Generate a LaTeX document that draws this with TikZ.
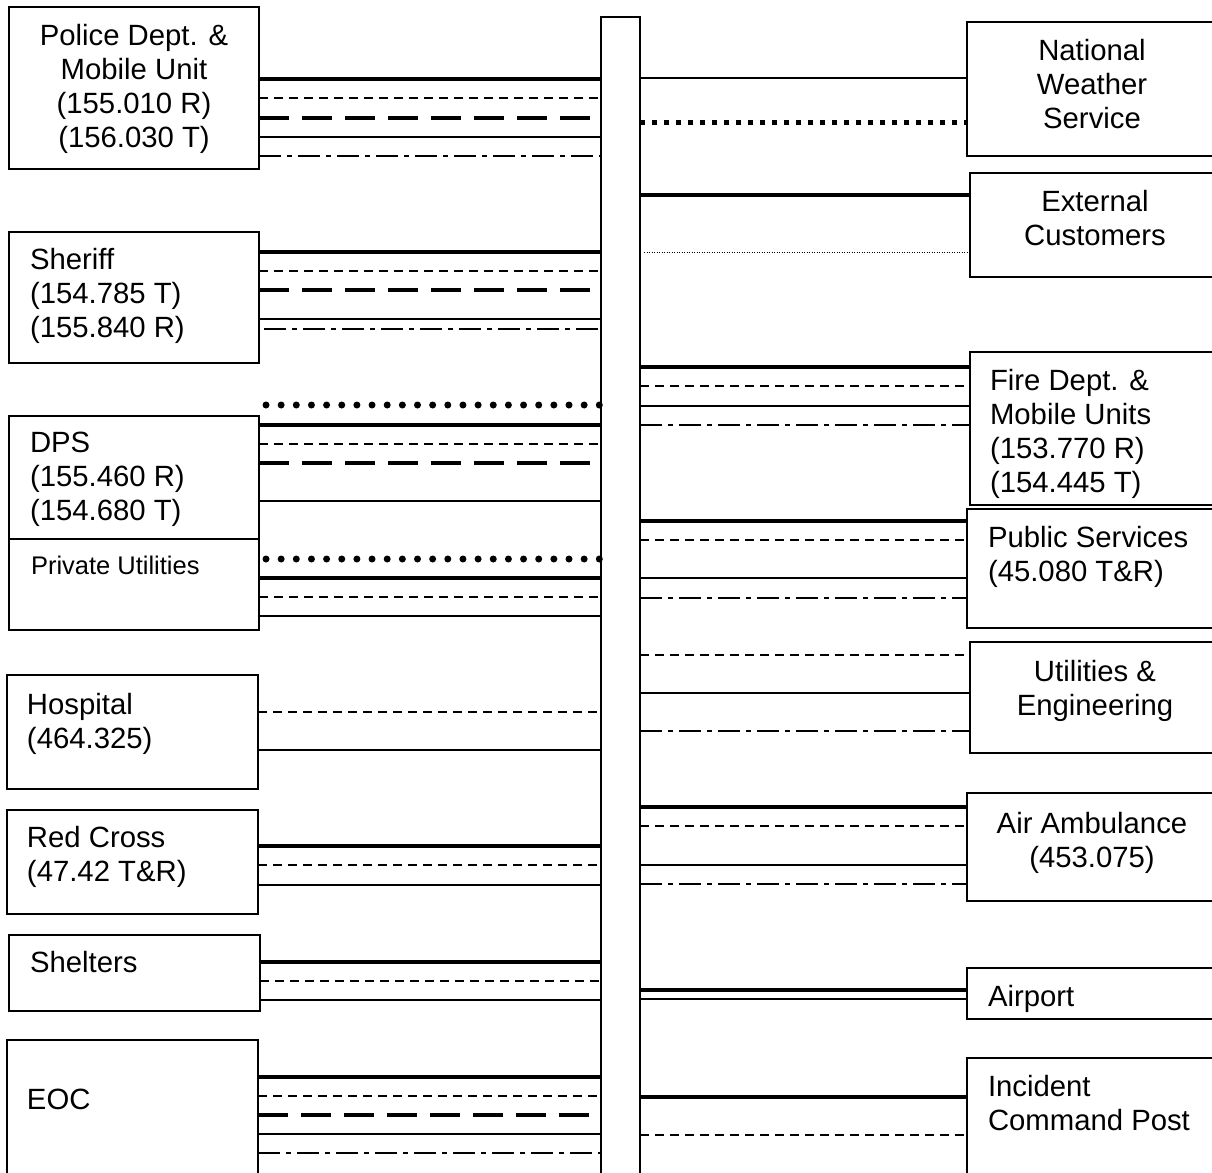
\documentclass[tikz,border=0pt]{standalone}
\usepackage{fontspec}
\setmainfont{Liberation Sans}
\tikzset{
  box/.style={draw, rectangle, line width=1.8pt, inner sep=0pt, outer sep=0pt, anchor=north west},
  lbl/.style={inner sep=0pt, outer sep=0pt, font=\fontsize{29.3}{34}\selectfont},
  smalllbl/.style={inner sep=0pt, outer sep=0pt, font=\fontsize{25.5}{30}\selectfont},
  thickln/.style={line width=3.6pt},
  thinln/.style={line width=1.8pt},
  dashln/.style={line width=1.4pt, dash pattern=on 9pt off 6pt},
  longdash/.style={line width=3.8pt, dash pattern=on 30pt off 13pt},
  dashdotln/.style={line width=2.8pt, dash pattern=on 22pt off 6pt on 5pt off 6pt},
  bigdots/.style={line width=7pt, line cap=round, dash pattern=on 0pt off 15.15pt},
  sqdots/.style={line width=5pt, dash pattern=on 5pt off 7pt},
  finedots/.style={line width=1pt, dash pattern=on 1pt off 1.5pt}
}
\begin{document}
\begin{tikzpicture}[x=1pt,y=-1pt]
\useasboundingbox (0,0) rectangle (1212,1172);
\clip (0,0) rectangle (1212,1172);
\fill[white] (0,0) rectangle (1212,1172);

% central bar
\node[box, minimum width=39pt, minimum height=1250pt] (bar) at (601,17) {};

% left boxes
\node[box, minimum width=250pt, minimum height=162pt] (police) at (9,7) {};
\node[box, minimum width=250pt, minimum height=131pt] (sheriff) at (9,232) {};
\node[box, minimum width=250pt, minimum height=123pt] (dps) at (9,416) {};
\node[box, minimum width=250pt, minimum height=91pt] (private) at (9,539) {};
\node[box, minimum width=251pt, minimum height=114pt] (hospital) at (7,675) {};
\node[box, minimum width=251pt, minimum height=104pt] (redcross) at (7,810) {};
\node[box, minimum width=251pt, minimum height=76pt] (shelters) at (9,935) {};
\node[box, minimum width=251pt, minimum height=220pt] (eoc) at (7,1040) {};

% right boxes
\node[box, minimum width=320pt, minimum height=134pt] (nws) at (967,22) {};
\node[box, minimum width=320pt, minimum height=104pt] (ext) at (970,173) {};
\node[box, minimum width=320pt, minimum height=153pt] (fire) at (970,352) {};
\node[box, minimum width=320pt, minimum height=119pt] (public) at (967,509) {};
\node[box, minimum width=320pt, minimum height=111pt] (util) at (970,642) {};
\node[box, minimum width=320pt, minimum height=108pt] (air) at (967,793) {};
\node[box, minimum width=320pt, minimum height=51pt] (airport) at (967,968) {};
\node[box, minimum width=320pt, minimum height=200pt] (icp) at (967,1058) {};

% labels
\node[lbl, align=center, anchor=north] (policeT) at (134,24) {Police Dept. \&\\Mobile Unit\\(155.010 R)\\(156.030 T)};
\node[lbl, align=left, anchor=north west] (sheriffT) at (30,248) {Sheriff\\(154.785 T)\\(155.840 R)};
\node[lbl, align=left, anchor=north west] (dpsT) at (30,432) {DPS\\(155.460 R)\\(154.680 T)};
\node[smalllbl, anchor=north west] (privateT) at (31,556.5) {Private Utilities};
\node[lbl, align=left, anchor=north west] (hospitalT) at (27,693) {Hospital\\(464.325)};
\node[lbl, align=left, anchor=north west] (redcrossT) at (27,826) {Red Cross\\(47.42 T\&R)};
\node[lbl, anchor=north west] (sheltersT) at (30,951) {Shelters};
\node[lbl, anchor=north west] (eocT) at (27,1089) {EOC};

\node[lbl, align=center, anchor=north] (nwsT) at (1092,39) {National\\Weather\\Service};
\node[lbl, align=center, anchor=north] (extT) at (1095,190) {External\\Customers};
\node[lbl, align=left, anchor=north west] (fireT) at (990,369) {Fire Dept. \&\\Mobile Units\\(153.770 R)\\(154.445 T)};
\node[lbl, align=left, anchor=north west] (publicT) at (988,526) {Public Services\\(45.080 T\&R)};
\node[lbl, align=center, anchor=north] (utilT) at (1095,660) {Utilities \&\\Engineering};
\node[lbl, align=center, anchor=north] (airT) at (1092,812) {Air Ambulance\\(453.075)};
\node[lbl, anchor=north west] (airportT) at (988,985) {Airport};
\node[lbl, align=left, anchor=north west] (icpT) at (988,1075) {Incident\\Command Post};

% ---- left connectors ----
% police
\draw[thickln]   (police.east |- 0,79)  -- (bar.west |- 0,79);
\draw[dashln]    (police.east |- 0,98)  -- (bar.west |- 0,98);
\draw[longdash]  (police.east |- 0,118) -- (bar.west |- 0,118);
\draw[thinln]    (police.east |- 0,137) -- (bar.west |- 0,137);
\draw[dashdotln] (police.east |- 0,156) -- (bar.west |- 0,156);
% sheriff
\draw[thickln]   (sheriff.east |- 0,252) -- (bar.west |- 0,252);
\draw[dashln]    (sheriff.east |- 0,271) -- (bar.west |- 0,271);
\draw[longdash]  (sheriff.east |- 0,290) -- (bar.west |- 0,290);
\draw[thinln]    (sheriff.east |- 0,319) -- (bar.west |- 0,319);
\draw[dashdotln] ([xshift=5pt]sheriff.east |- 0,329) -- (bar.west |- 0,329);
% dps
\draw[bigdots]   ([xshift=7pt]dps.east |- 0,405) -- ([xshift=0.5pt]bar.west |- 0,405);
\draw[thickln]   (dps.east |- 0,425) -- (bar.west |- 0,425);
\draw[dashln]    (dps.east |- 0,444) -- (bar.west |- 0,444);
\draw[longdash]  (dps.east |- 0,463) -- (bar.west |- 0,463);
\draw[thinln]    (dps.east |- 0,501) -- (bar.west |- 0,501);
% private utilities
\draw[bigdots]   ([xshift=7pt]private.east |- 0,559) -- ([xshift=0.5pt]bar.west |- 0,559);
\draw[thickln]   (private.east |- 0,578) -- (bar.west |- 0,578);
\draw[dashln]    (private.east |- 0,597) -- (bar.west |- 0,597);
\draw[thinln]    (private.east |- 0,616) -- (bar.west |- 0,616);
% hospital
\draw[dashln]    (hospital.east |- 0,712) -- (bar.west |- 0,712);
\draw[thinln]    (hospital.east |- 0,750) -- (bar.west |- 0,750);
% red cross
\draw[thickln]   (redcross.east |- 0,846) -- (bar.west |- 0,846);
\draw[dashln]    (redcross.east |- 0,865) -- (bar.west |- 0,865);
\draw[thinln]    (redcross.east |- 0,885) -- (bar.west |- 0,885);
% shelters
\draw[thickln]   (shelters.east |- 0,962) -- (bar.west |- 0,962);
\draw[dashln]    (shelters.east |- 0,981) -- (bar.west |- 0,981);
\draw[thinln]    (shelters.east |- 0,1000) -- (bar.west |- 0,1000);
% eoc
\draw[thickln]   (eoc.east |- 0,1077) -- (bar.west |- 0,1077);
\draw[dashln]    (eoc.east |- 0,1096) -- (bar.west |- 0,1096);
\draw[longdash]  (eoc.east |- 0,1115) -- (bar.west |- 0,1115);
\draw[thinln]    (eoc.east |- 0,1134) -- (bar.west |- 0,1134);
\draw[dashdotln] (eoc.east |- 0,1153) -- (bar.west |- 0,1153);

% ---- right connectors ----
\draw[thinln]    (bar.east |- 0,78)  -- (nws.west |- 0,78);
\draw[sqdots]    (bar.east |- 0,122) -- (nws.west |- 0,122);
\draw[thickln]   (bar.east |- 0,195) -- (ext.west |- 0,195);
\draw[finedots]  ([xshift=4pt]bar.east |- 0,252) -- (ext.west |- 0,252);
% fire
\draw[thickln]   (bar.east |- 0,367) -- (fire.west |- 0,367);
\draw[dashln]    (bar.east |- 0,386) -- (fire.west |- 0,386);
\draw[thinln]    (bar.east |- 0,406) -- (fire.west |- 0,406);
\draw[dashdotln] (bar.east |- 0,425) -- (fire.west |- 0,425);
% public services
\draw[thickln]   (bar.east |- 0,521) -- (public.west |- 0,521);
\draw[dashln]    (bar.east |- 0,540) -- (public.west |- 0,540);
\draw[thinln]    (bar.east |- 0,578) -- (public.west |- 0,578);
\draw[dashdotln] (bar.east |- 0,598) -- (public.west |- 0,598);
% utilities
\draw[dashln]    (bar.east |- 0,655) -- (util.west |- 0,655);
\draw[thinln]    (bar.east |- 0,693) -- (util.west |- 0,693);
\draw[dashdotln] (bar.east |- 0,731) -- (util.west |- 0,731);
% air ambulance
\draw[thickln]   (bar.east |- 0,807) -- (air.west |- 0,807);
\draw[dashln]    (bar.east |- 0,826) -- (air.west |- 0,826);
\draw[thinln]    (bar.east |- 0,865) -- (air.west |- 0,865);
\draw[dashdotln] (bar.east |- 0,884) -- (air.west |- 0,884);
% airport
\draw[thickln]   (bar.east |- 0,990) -- (airport.west |- 0,990);
\draw[thinln]    (bar.east |- 0,999) -- (airport.west |- 0,999);
% incident command post
\draw[thickln]   (bar.east |- 0,1097) -- (icp.west |- 0,1097);
\draw[dashln]    (bar.east |- 0,1135) -- (icp.west |- 0,1135);
\end{tikzpicture}
\end{document}
